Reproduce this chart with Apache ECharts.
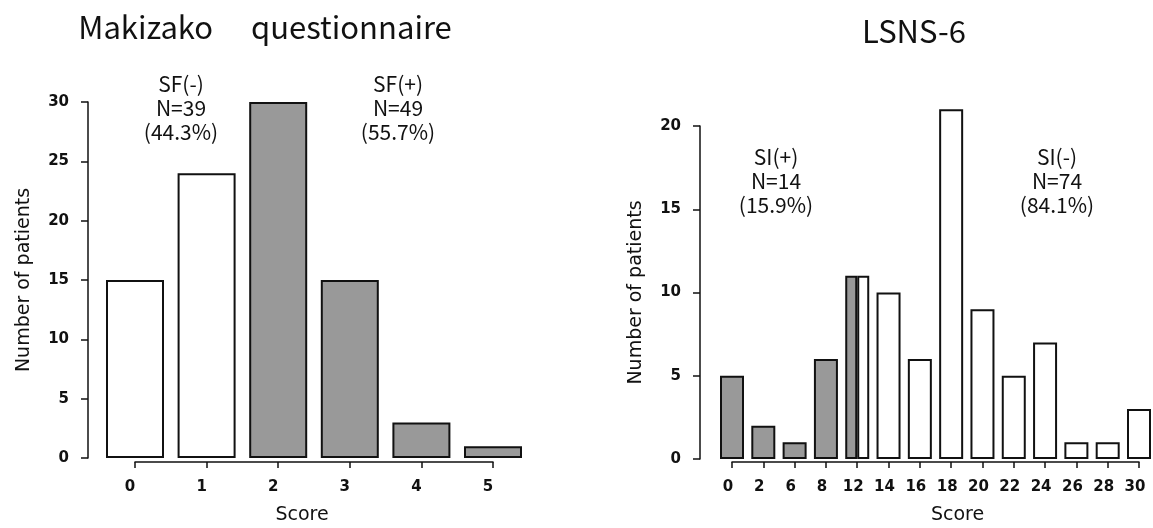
<!DOCTYPE html>
<html><head><meta charset="utf-8">
<script src="https://cdn.jsdelivr.net/npm/echarts@6/dist/echarts.min.js"></script>
<style>html,body{margin:0;padding:0;background:#fff}#c{width:1153px;height:528px}</style>
</head><body><div id="c"></div>
<script>
// ---------- data ----------
const makScores = [0, 1, 2, 3, 4, 5];
const makCounts = [15, 24, 30, 15, 3, 1];
const makCut = 2;               // score >= 2 : SF(+)
const makYTicks = [0, 30, 5];   // min, max, interval

const lsnsScores = ['0','2','6','8','12','14','16','18','20','22','24','26','28','30'];
const lsnsCounts = [5, 2, 1, 6, 11, 10, 6, 21, 9, 5, 7, 1, 1, 3];
const lsnsPosN = 14;            // SI(+) count (scores below 12)
const lsnsSplit = '12';         // bar drawn half shaded
const lsnsYTicks = [0, 20, 5];

// ---------- derived texts ----------
const makTotal = makCounts.reduce((a, b) => a + b, 0);
const sfNeg = makCounts.filter((c, i) => makScores[i] < makCut).reduce((a, b) => a + b, 0);
const sfPos = makTotal - sfNeg;
const lsTotal = lsnsCounts.reduce((a, b) => a + b, 0);
const siPos = lsnsPosN, siNeg = lsTotal - lsnsPosN;
const pct = (n, t) => (Math.round(n / t * 1000) / 10).toFixed(1) + '%';

const GRAY = '#999999', WHITE = '#ffffff', INK = '#111111';
const tickFont = { fontFamily: 'DejaVu Sans', fontWeight: 'bold', fontSize: 15, color: INK };
const nameFont = { fontFamily: 'DejaVu Sans', fontSize: 19, color: INK };
const annFont = '21px "Noto Sans CJK JP"';
const titleFont = '31px "Noto Sans CJK JP"';

function yAx(grid, t, name) {
  return {
    type: 'value', gridIndex: grid, min: t[0], max: t[1], interval: t[2], offset: grid === 0 ? 47 : 32,
    axisLine: { show: true, onZero: false, lineStyle: { color: INK, width: 1.5 } },
    axisTick: { show: true, length: 7, lineStyle: { color: INK, width: 1.5 } },
    splitLine: { show: false },
    axisLabel: Object.assign({ margin: 19, padding: [10, 0, 0, 0] }, tickFont),
    name: name, nameLocation: 'middle', nameGap: 54, nameMoveOverlap: false,
    nameTextStyle: nameFont
  };
}
const xCommon = {
  axisLine: { show: true, onZero: false, lineStyle: { color: INK, width: 1.5 } },
  axisTick: { show: true, length: 6, alignWithLabel: true, lineStyle: { color: INK, width: 1.5 } },
  splitLine: { show: false },
  name: 'Score', nameLocation: 'middle', nameGap: 44, nameMoveOverlap: false
};

const option = {
  animation: false,
  backgroundColor: '#ffffff',
  grid: [
    { left: 135, top: 102, width: 358, height: 356, outerBoundsMode: 'none', containLabel: false },
    { left: 732, top: 126, width: 407, height: 333, outerBoundsMode: 'none', containLabel: false }
  ],
  xAxis: [
    Object.assign({}, xCommon, { type: 'value', gridIndex: 0, min: 0, max: 5, interval: 1, offset: 4,
      axisLabel: Object.assign({ margin: 18, padding: [0, 10, 0, 0] }, tickFont),
      nameTextStyle: Object.assign({ padding: [0, 24, 0, 0] }, nameFont) }),
    Object.assign({}, xCommon, { type: 'category', gridIndex: 1, data: lsnsScores, boundaryGap: false, offset: 3,
      axisLabel: Object.assign({ margin: 18, padding: [0, 8, 0, 0], interval: 0 }, tickFont),
      nameTextStyle: Object.assign({ padding: [0, 0, 0, 44] }, nameFont) }),
    { type: 'category', gridIndex: 1, data: lsnsScores, boundaryGap: false, show: false }
  ],
  yAxis: [
    yAx(0, makYTicks, 'Number of patients'),
    yAx(1, lsnsYTicks, 'Number of patients')
  ],
  series: [
    {
      type: 'bar', xAxisIndex: 0, yAxisIndex: 0, barWidth: 58, clip: false,
      itemStyle: { borderColor: INK, borderWidth: 2 },
      data: makScores.map((s, i) => ({ value: [s, makCounts[i]], itemStyle: { color: s >= makCut ? GRAY : WHITE } }))
    },
    {
      type: 'bar', xAxisIndex: 1, yAxisIndex: 1, barWidth: 24, clip: false,
      itemStyle: { borderColor: INK, borderWidth: 2 },
      data: lsnsCounts.map((c, i) => lsnsScores[i] === lsnsSplit ? '-' :
        ({ value: c, itemStyle: { color: Number(lsnsScores[i]) < Number(lsnsSplit) ? GRAY : WHITE } }))
    },
    {
      type: 'bar', xAxisIndex: 2, yAxisIndex: 1, barWidth: 12, barGap: 0, clip: false,
      itemStyle: { color: GRAY, borderColor: INK, borderWidth: 2 },
      data: lsnsCounts.map((c, i) => lsnsScores[i] === lsnsSplit ? c : '-')
    },
    {
      type: 'bar', xAxisIndex: 2, yAxisIndex: 1, barWidth: 12, barGap: 0, clip: false,
      itemStyle: { color: WHITE, borderColor: INK, borderWidth: 2 },
      data: lsnsCounts.map((c, i) => lsnsScores[i] === lsnsSplit ? c : '-')
    }
  ],
  graphic: [
    { type: 'text', x: 265, y: 27, style: { text: 'Makizako\u3000 questionnaire', font: titleFont, fill: INK, align: 'center', verticalAlign: 'middle' } },
    { type: 'text', x: 914, y: 31, style: { text: 'LSNS-6', font: titleFont, fill: INK, align: 'center', verticalAlign: 'middle' } },
    { type: 'text', x: 181, y: 108, style: { text: 'SF(-)\nN=' + sfNeg + '\n(' + pct(sfNeg, makTotal) + ')', font: annFont, lineHeight: 24, fill: INK, align: 'center', verticalAlign: 'middle' } },
    { type: 'text', x: 398, y: 108, style: { text: 'SF(+)\nN=' + sfPos + '\n(' + pct(sfPos, makTotal) + ')', font: annFont, lineHeight: 24, fill: INK, align: 'center', verticalAlign: 'middle' } },
    { type: 'text', x: 776, y: 181, style: { text: 'SI(+)\nN=' + siPos + '\n(' + pct(siPos, lsTotal) + ')', font: annFont, lineHeight: 24, fill: INK, align: 'center', verticalAlign: 'middle' } },
    { type: 'text', x: 1057, y: 181, style: { text: 'SI(-)\nN=' + siNeg + '\n(' + pct(siNeg, lsTotal) + ')', font: annFont, lineHeight: 24, fill: INK, align: 'center', verticalAlign: 'middle' } }
  ]
};
const chart = echarts.init(document.getElementById('c'), null, { renderer: 'canvas' });
chart.setOption(option);
</script>
</body></html>
